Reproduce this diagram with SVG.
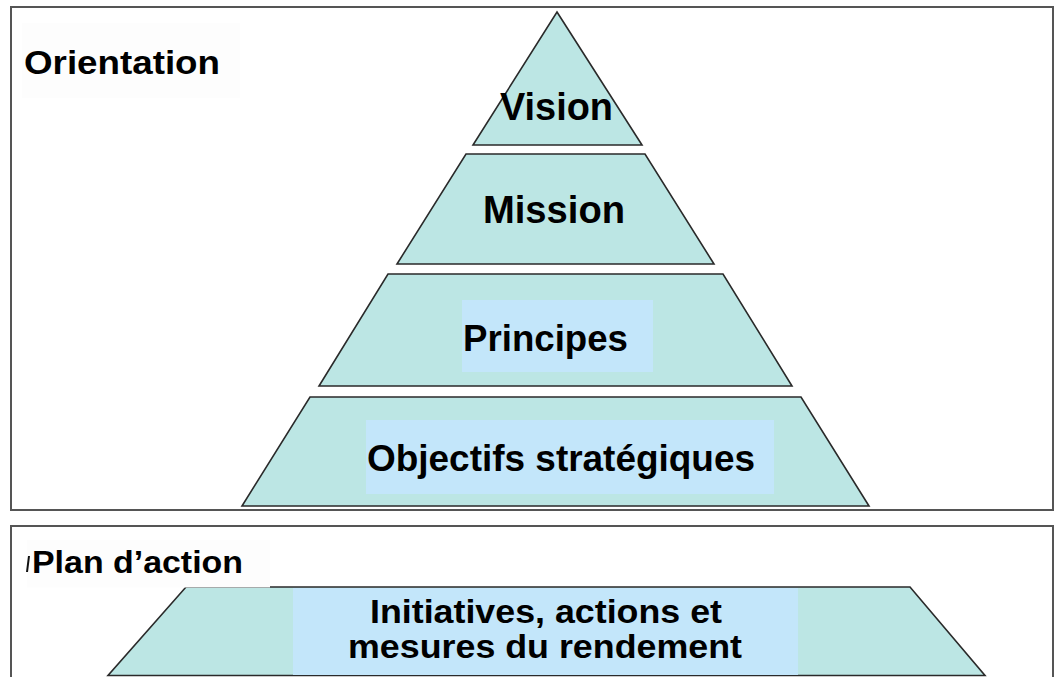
<svg xmlns="http://www.w3.org/2000/svg" width="1055" height="677" viewBox="0 0 1055 677">
  <style>
    .frame { fill: #ffffff; stroke: #555555; stroke-width: 2; }
    .layer { fill: #bce6e4; stroke: #2a2a2a; stroke-width: 1.6; stroke-linejoin: miter; }
    .hl { fill: #c3e6fa; stroke: none; }
    .lbl { fill: #fdfdfd; stroke: none; }
    .t { font-family: "Liberation Sans", Arial, sans-serif; font-weight: bold; fill: #000000; }
  </style>
  <rect x="0" y="0" width="1055" height="677" fill="#ffffff"/>

  <g id="frame-orientation">
    <rect class="frame" x="11" y="7" width="1042" height="503"/>
    <rect class="lbl" x="22" y="23" width="218" height="75"/>
    <text class="t" x="24" y="74" font-size="34" textLength="196" lengthAdjust="spacingAndGlyphs">Orientation</text>
  </g>

  <g id="frame-plan">
    <rect class="frame" x="11" y="526" width="1042" height="160"/>
  </g>

  <g id="vision">
    <polygon class="layer" points="557,12 642,145 473,145"/>
    <text class="t" x="500" y="120" font-size="39" textLength="113" lengthAdjust="spacingAndGlyphs">Vision</text>
  </g>

  <g id="mission">
    <polygon class="layer" points="466,154 645,154 714,264 397,264"/>
    <text class="t" x="483" y="223" font-size="39" textLength="142" lengthAdjust="spacingAndGlyphs">Mission</text>
  </g>

  <g id="principes">
    <polygon class="layer" points="388,274 723,274 792,386 319,386"/>
    <rect class="hl" x="462" y="300" width="191" height="72"/>
    <text class="t" x="463" y="351" font-size="36" textLength="165" lengthAdjust="spacingAndGlyphs">Principes</text>
  </g>

  <g id="objectifs">
    <polygon class="layer" points="310,397 801,397 869,506 242,506"/>
    <rect class="hl" x="366" y="420" width="408" height="74"/>
    <text class="t" x="367" y="471" font-size="36" textLength="388" lengthAdjust="spacingAndGlyphs">Objectifs stratégiques</text>
  </g>

  <g id="initiatives">
    <polygon class="layer" points="186,587 910,587 985,675.5 108,675.5"/>
    <rect class="hl" x="293" y="588" width="505" height="87"/>
    <text class="t" x="370" y="623" font-size="33" textLength="352" lengthAdjust="spacingAndGlyphs">Initiatives, actions et</text>
    <text class="t" x="348" y="658" font-size="33" textLength="394" lengthAdjust="spacingAndGlyphs">mesures du rendement</text>
  </g>

  <g id="label-plan">
    <rect class="lbl" x="27" y="540" width="243" height="47.5"/>
    <polygon points="26,572 28,556 30,556 28,572" fill="#111111"/>
    <text class="t" x="32" y="573" font-size="32" textLength="211" lengthAdjust="spacingAndGlyphs">Plan d’action</text>
  </g>

  <g id="connectors"></g>
</svg>
